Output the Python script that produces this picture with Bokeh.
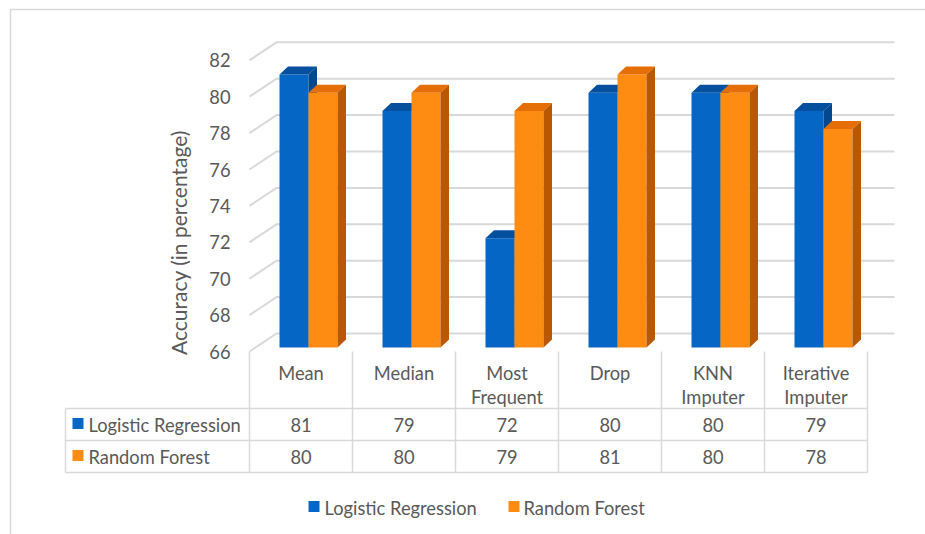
import numpy as np
from bokeh.plotting import figure
from bokeh.models import Range1d
from bokeh.core.properties import value
from bokeh.embed import file_html
from bokeh.resources import INLINE

# ---- data -------------------------------------------------------------
categories = ["Mean", "Median", "Most\nFrequent", "Drop", "KNN\nImputer", "Iterative\nImputer"]
series_names = ["Logistic Regression", "Random Forest"]
logistic_regression = [81, 79, 72, 80, 80, 79]
random_forest = [80, 80, 79, 81, 80, 78]
y_ticks = [66, 68, 70, 72, 74, 76, 78, 80, 82]

# ---- styling / geometry (pixels) ------------------------------------------
W, H = 925, 534
COL_W = 103.0           # width of one category column
COL0 = 300.5            # pixel centre of first column
PX_Y = 18.2             # pixels per accuracy unit
BASE_PIX = 351.0        # pixel row of the axis floor on the front plane
Y_MIN = y_ticks[0]
WALL_DX, WALL_DY = 27.0, 18.0     # depth of the back wall
BAR_W = 29.0
BAR_SX, BAR_SY = 7.5, 4.0         # bars sit slightly behind the front plane
BAR_DX, BAR_DY = 8.5, 8.0         # bar depth

FONT = value("Lato")
FS = "18.3px"
TXT = "#595959"
GRID = "#D9D9D9"
FRONT = ["#0566C6", "#FF8C12"]
TOP = ["#04509E", "#E56F06"]
SIDE = ["#03488F", "#B95800"]


def ux(px):
    return px / COL_W


def uy(px):
    return px / PX_Y


p = figure(width=W, height=H,
           x_range=Range1d(-COL0 / COL_W, (W - COL0) / COL_W),
           y_range=Range1d(Y_MIN - (H - BASE_PIX) / PX_Y, Y_MIN + BASE_PIX / PX_Y),
           x_axis_type=None, y_axis_type=None,
           toolbar_location=None, output_backend="svg", min_border=0)
p.outline_line_color = None
p.grid.visible = False
p.background_fill_color = "white"
p.extra_x_ranges = {"px": Range1d(0, W)}
p.extra_y_ranges = {"px": Range1d(H, 0)}

n = len(categories)
left_edge = -0.5
right_edge = n - 0.5

# ---- outer chart border ------------------------------------------------------
p.line([10, 10, W], [H, 9, 9], x_range_name="px", y_range_name="px",
       line_color=GRID, line_width=1.5)

# ---- 3D gridlines: floor/side diagonal then along the back wall ----------------
gx, gy = [], []
for t in y_ticks:
    gx.append([left_edge, left_edge + ux(WALL_DX), right_edge + ux(WALL_DX)])
    gy.append([t, t + uy(WALL_DY), t + uy(WALL_DY)])
p.multi_line(gx, gy, line_color=GRID, line_width=2)

# ---- y tick labels -----------------------------------------------------------
p.text(x=[left_edge - ux(19)] * len(y_ticks), y=y_ticks, text=[str(t) for t in y_ticks],
       text_font=FONT, text_font_size=FS, text_color=TXT,
       text_align="right", text_baseline="middle")

# axis title
p.text(x=[178], y=[242], text=["Accuracy (in percentage)"], x_range_name="px", y_range_name="px",
       angle=np.pi / 2, text_font=FONT, text_font_size="21px", text_color=TXT,
       text_align="center", text_baseline="middle")

# ---- 3D columns --------------------------------------------------------------
for s, vals in enumerate([logistic_regression, random_forest]):
    idx = np.arange(n)
    l = idx - ux(BAR_W) + s * ux(BAR_W) + ux(BAR_SX)
    r = l + ux(BAR_W)
    b = np.full(n, Y_MIN + uy(BAR_SY))
    t = np.array(vals, dtype=float) + uy(BAR_SY)
    ddx, ddy = ux(BAR_DX), uy(BAR_DY)
    p.quad(left=l, right=r, bottom=b, top=t, fill_color=FRONT[s], line_color=None)
    top_xs = [[l[i], r[i], r[i] + ddx, l[i] + ddx] for i in range(n)]
    top_ys = [[t[i], t[i], t[i] + ddy, t[i] + ddy] for i in range(n)]
    p.patches(top_xs, top_ys, fill_color=TOP[s], line_color=None)
    side_xs = [[r[i], r[i], r[i] + ddx, r[i] + ddx] for i in range(n)]
    side_ys = [[b[i], t[i], t[i] + ddy, b[i] + ddy] for i in range(n)]
    p.patches(side_xs, side_ys, fill_color=SIDE[s], line_color=None)

# ---- data table ----------------------------------------------------------------
TBL_LEFT = 65
HDR_TOP = 351
ROW_Y = [408, 440, 472]
col_edges_px = [COL0 + COL_W * (i - 0.5) for i in range(n + 1)]
tbl_right = col_edges_px[-1]

p.segment(x0=[TBL_LEFT] * 3, y0=ROW_Y, x1=[tbl_right] * 3, y1=ROW_Y,
          x_range_name="px", y_range_name="px", line_color=GRID, line_width=1.5)
vx = [TBL_LEFT] + col_edges_px
vy0 = [ROW_Y[0]] + [HDR_TOP] * len(col_edges_px)
vy1 = [ROW_Y[-1]] * len(vx)
p.segment(x0=vx, y0=vy0, x1=vx, y1=vy1, x_range_name="px", y_range_name="px",
          line_color=GRID, line_width=1.5)

# category headers
hx, hy, ht = [], [], []
for i, c in enumerate(categories):
    for k, line in enumerate(c.split("\n")):
        hx.append(i)
        hy.append(372 + 24 * k)
        ht.append(line)
p.text(x=hx, y=hy, text=ht, y_range_name="px", text_font=FONT, text_font_size=FS,
       text_color=TXT, text_align="center", text_baseline="middle")

# value rows with their series keys
row_centres = [424, 456]
for s, vals in enumerate([logistic_regression, random_forest]):
    p.text(x=list(range(n)), y=[row_centres[s]] * n, text=[str(v) for v in vals],
           y_range_name="px", text_font=FONT, text_font_size=FS, text_color=TXT,
           text_align="center", text_baseline="middle")
    p.rect(x=[77.5], y=[row_centres[s] - 1], width=11, height=11, x_range_name="px",
           y_range_name="px", fill_color=FRONT[s], line_color=None)
    p.text(x=[88], y=[row_centres[s]], text=[series_names[s]], x_range_name="px",
           y_range_name="px", text_font=FONT, text_font_size=FS, text_color=TXT,
           text_align="left", text_baseline="middle")

# ---- legend ---------------------------------------------------------------------
leg_key_x = [313.5, 513.5]
leg_txt_x = [324, 523]
for s in range(2):
    p.rect(x=[leg_key_x[s]], y=[506], width=11, height=11, x_range_name="px",
           y_range_name="px", fill_color=FRONT[s], line_color=None)
    p.text(x=[leg_txt_x[s]], y=[507], text=[series_names[s]], x_range_name="px",
           y_range_name="px", text_font=FONT, text_font_size=FS, text_color=TXT,
           text_align="left", text_baseline="middle")

open("out.html", "w").write(file_html(p, INLINE))
